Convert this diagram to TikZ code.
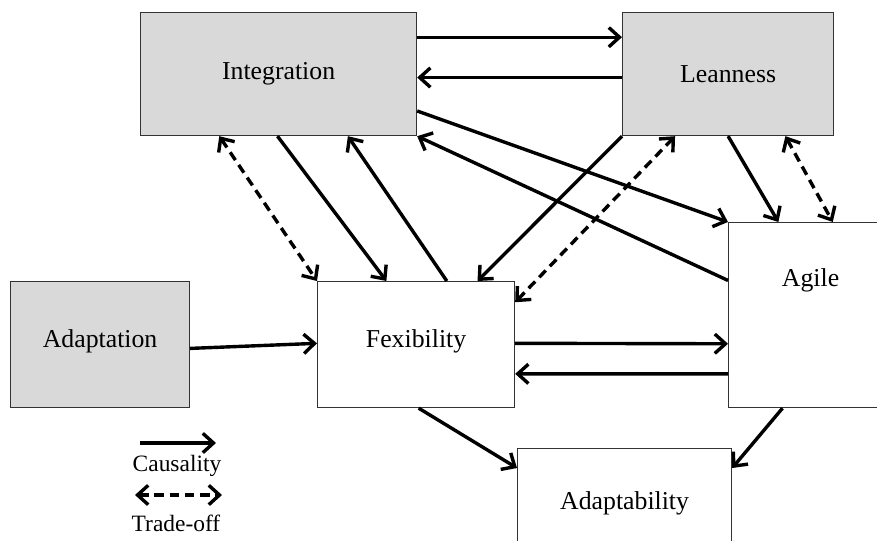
\documentclass[tikz,border=0pt]{standalone}
\usepackage{fontspec}
\setmainfont{Liberation Serif}
\usetikzlibrary{arrows.meta,calc}
\definecolor{boxgray}{HTML}{D9D9D9}
\tikzset{
  box/.style={draw=black!80, line width=1pt, inner sep=0pt, anchor=north west,
    font=\fontsize{22}{26}\selectfont},
  graybox/.style={box, fill=boxgray},
  raised/.style={text height=15pt, text depth=10pt},
  legend/.style={font=\fontsize{20}{24}\selectfont},
  cause/.style={line width=2.9pt, -{Straight Barb[length=3.2mm,width=5.8mm]}},
  trade/.style={line width=2.9pt, {Straight Barb[length=3.2mm,width=5.8mm]}-{Straight Barb[length=3.2mm,width=5.8mm]},
    dash pattern=on 8pt off 5pt},
}
\begin{document}
\begin{tikzpicture}[x=0.03cm,y=-0.03cm]
\useasboundingbox (0,0) rectangle (877,541);
\clip (0,0) rectangle (877,541);

% boxes
\node[graybox, minimum width=8.28cm, minimum height=3.69cm] (integ) at (140,12) {Integration};
\node[graybox, minimum width=6.33cm, minimum height=3.69cm] (lean) at (622,12) {Leanness};
\node[box, minimum width=4.92cm, minimum height=5.55cm,
  label={[anchor=center,yshift=-1.74cm,font=\fontsize{22}{26}\selectfont]north:Agile}] (agile) at (728,222) {};
\node[graybox, raised, minimum width=5.37cm, minimum height=3.78cm] (adapt) at (10,281) {Adaptation};
\node[box, raised, minimum width=5.91cm, minimum height=3.78cm] (flex) at (317,281) {Fexibility};
\node[box, minimum width=6.42cm, minimum height=3.3cm] (adaptab) at (517,448) {Adaptability};

% integration - leanness
\draw[cause] ($(integ.north east)!.203!(integ.south east)$) -- ($(lean.north west)!.203!(lean.south west)$);
\draw[cause] ($(lean.north west)!.528!(lean.south west)$) -- ($(integ.north east)!.528!(integ.south east)$);

% integration - agile
\draw[cause] ($(integ.north east)!.797!(integ.south east)$) -- (agile.north west);
\draw[cause] ($(agile.north west)!.314!(agile.south west)$) -- (integ.south east);

% leanness - flexibility / agile
\draw[cause] (lean.south west) -- ($(flex.north west)!.81!(flex.north east)$);
\draw[trade] ($(flex.north east)!.167!(flex.south east)$) -- ($(lean.south west)!.25!(lean.south east)$);
\draw[cause] ($(lean.south west)!.5!(lean.south east)$) -- ($(agile.north west)!.305!(agile.north east)$);
\draw[trade] ($(lean.south west)!.77!(lean.south east)$) -- ($(agile.north west)!.634!(agile.north east)$);

% integration - flexibility
\draw[trade] ($(integ.south west)!.286!(integ.south east)$) -- (flex.north west);
\draw[cause] ($(integ.south west)!.496!(integ.south east)$) -- ($(flex.north west)!.35!(flex.north east)$);
\draw[cause] ($(flex.north west)!.655!(flex.north east)$) -- ($(integ.south west)!.75!(integ.south east)$);

% adaptation, flexibility, agile
\draw[cause] ($(adapt.north east)!.53!(adapt.south east)$) -- ($(flex.north west)!.49!(flex.south west)$);
\draw[cause] ($(flex.north east)!.49!(flex.south east)$) -- ($(agile.north west)!.654!(agile.south west)$);
\draw[cause] ($(agile.north west)!.816!(agile.south west)$) -- ($(flex.north east)!.73!(flex.south east)$);

% adaptability
\draw[cause] ($(flex.south west)!.513!(flex.south east)$) -- ($(adaptab.north west)!.18!(adaptab.south west)$);
\draw[cause] ($(agile.south west)!.33!(agile.south east)$) -- ($(adaptab.north east)!.18!(adaptab.south east)$);

% legend
\coordinate (cs) at (140,443);
\coordinate (ce) at (216,443);
\draw[cause] (cs) -- (ce);
\node[legend] (causal) at (177,466) {Causality};
\coordinate (ts) at (135,495);
\coordinate (te) at (222,495);
\draw[trade] (ts) -- (te);
\node[legend] (tradeoff) at (176,523) {Trade-off};
\end{tikzpicture}
\end{document}
